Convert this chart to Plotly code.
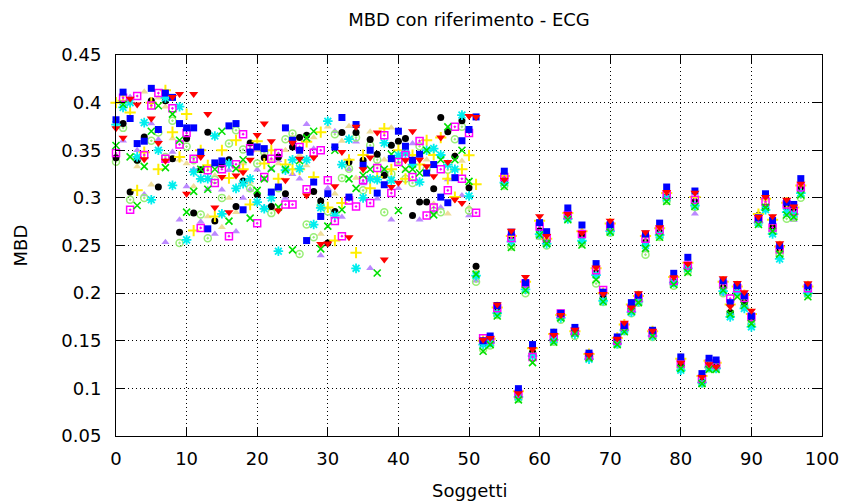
import plotly.graph_objects as go

subjects = list(range(99))

# ---- values per series: subjects 0..51 (scattered) + 52..98 (clustered) ----
red = [.373, .363, .404, .398, .3405, .3833, .3577, .339, .406, .409,
       .3044, .409, .343, .388, .29, .322, .285, .3236, .327, .340,
       .366, .378, .3595, .2868, .3184, .358, .341, .3026, .3423, .2517,
       .252, .3121, .3482, .2587, .3746, .330, .3423, .3686, .2352, .3114,
       .316, .3395, .370, .340, .3331, .3226, .3633, .3377, .2984, .2945,
       .386, .385] + \
      [.151, .153, .188, .319, .2655, .095, .217, .141, .2806, .260,
       .156, .177, .283, .1615, .263, .135, .227, .199, .276, .152,
       .169, .185, .200, .264, .1604, .2692, .3061, .2166, .127, .2306,
       .3054, .112, .1253, .1228, .2155, .186, .2106, .2008, .1815, .2798,
       .3008, .2808, .2524, .298, .291, .3149, .2103]

green = [.355, .398, .343, .292, .333, .370, .3967, .3317, .388, .3605,
         .285, .3068, .330, .309, .330, .370, .2756, .3307, .340, .2787,
         .3079, .320, .3307, .2903, .330, .2454, .339, .363, .370, .2464,
         .2703, .350, .2875, .320, .310, .3237, .330, .2211, .330, .3458,
         .2868, .330, .330, .3261, .350, .2822, .340, .3746, .340, .350,
         .3173, .220] + \
        [.139, .146, .176, .312, .248, .088, .203, .127, .261, .252,
         .1485, .174, .277, .158, .2505, .132, .214, .191, .264, .146,
         .1595, .181, .190, .247, .155, .2587, .2963, .209, .121, .2218,
         .291, .105, .120, .120, .203, .178, .1962, .187, .168, .272,
         .290, .265, .241, .282, .280, .303, .1962]

blue = [.382, .411, .3833, .357, .3595, .415, .3718, .410, .4055, .378,
        .3735, .3735, .348, .2675, .3367, .3388, .3756, .378, .2875, .348,
        .3535, .3517, .3061, .3114, .3735, .3605, .350, .2552, .3166, .2805,
        .3044, .3535, .3844, .3008, .377, .3342, .350, .305, .3138, .3412,
        .370, .3542, .3395, .3458, .3261, .335, .3008, .2949, .3212, .360,
        .3718, .385] + \
       [.150, .155, .187, .328, .264, .0997, .211, .146, .274, .2645,
        .159, .1788, .2894, .164, .2715, .137, .231, .201, .272, .154,
        .166, .190, .198, .262, .161, .2735, .3114, .2208, .133, .2376,
        .3072, .1155, .1316, .1298, .213, .190, .208, .197, .176, .279,
        .3043, .2762, .250, .2955, .2931, .3202, .208]

magenta = [.347, .405, .2875, .407, .345, .397, .410, .341, .394, .356,
           .368, .341, .2685, .329, .3156, .330, .2598, .3353, .3669, .352,
           .2734, .3219, .341, .347, .2931, .2931, .3535, .309, .3475, .350,
           .3184, .2756, .2598, .2973, .291, .3184, .2945, .3314, .3658, .305,
           .3377, .345, .3219, .3598, .2815, .290, .330, .3079, .3746, .320,
           .368, .2843] + \
          [.1525, .151, .184, .322, .258, .094, .210, .133, .270, .258,
           .154, .1785, .282, .160, .262, .134, .224, .2033, .270, .150,
           .165, .184, .195, .257, .158, .266, .303, .213, .126, .229,
           .298, .110, .126, .125, .209, .1944, .205, .195, .175, .278,
           .296, .269, .246, .293, .286, .311, .205]

cyan = [.377, .395, .400, .343, .379, .298, .350, .405, .3131, .3957,
        .2559, .3272, .320, .320, .365, .2833, .336, .310, .315, .320,
        .2956, .2886, .300, .244, .329, .340, .3307, .340, .272, .2896,
        .3805, .2815, .335, .3616, .226, .300, .320, .3191, .3577, .3184,
        .3447, .347, .335, .3166, .350, .3518, .345, .335, .330, .3869,
        .3019, .2183] + \
       [.146, .148, .179, .316, .254, .091, .204, .134, .262, .252,
        .151, .174, .278, .157, .255, .1307, .219, .192, .265, .147,
        .161, .180, .191, .250, .155, .261, .300, .211, .119, .226,
        .292, .106, .122, .121, .202, .1751, .201, .1839, .1646, .274,
        .2875, .2622, .2359, .285, .283, .305, .200]

yellow = [.400, .402, .3897, .3079, .348, .400, .330, .413, .369, .343,
          .388, .2657, .350, .3342, .2805, .350, .3208, .3605, .330, .293,
          .3595, .336, .350, .320, .335, .330, .330, .3588, .3219, .369,
          .290, .2552, .2945, .340, .2425, .345, .310, .3219, .3728, .330,
          .350, .320, .345, .335, .3605, .345, .3633, .320, .3008, .330,
          .3447, .3142] + \
         [.150, .152, .185, .323, .260, .097, .212, .142, .276, .257,
          .157, .177, .284, .160, .265, .136, .226, .200, .273, .153,
          .167, .188, .197, .260, .160, .268, .305, .217, .131, .232,
          .301, .113, .129, .127, .212, .188, .207, .198, .178, .283,
          .299, .277, .249, .295, .290, .313, .207]

black = [.342, .378, .3061, .3395, .364, .402, .3114, .402, .3412, .264,
         .3623, .284, .3296, .369, .2756, .3353, .340, .291, .3177, .3577,
         .3033, .342, .291, .343, .3044, .3535, .3633, .3658, .3068, .2966,
         .2527, .2857, .3686, .3377, .3686, .3395, .3612, .3458, .3237, .3553,
         .3595, .3623, .2815, .2956, .2956, .3096, .3844, .3693, .3437, .381,
         .3107, .2282] + \
        [.147, .149, .182, .318, .257, .093, .208, .138, .2655, .254,
         .153, .175, .281, .158, .260, .133, .221, .195, .268, .149,
         .162, .183, .194, .2534, .157, .264, .3026, .212, .124, .228,
         .296, .107, .124, .123, .206, .1797, .204, .1902, .174, .2815,
         .2903, .270, .247, .291, .287, .310, .2032]

lightgreen = [.338, .3735, .298, .340, .300, .360, .3686, .343, .381, .2527,
              .354, .3395, .2826, .2577, .319, .300, .357, .371, .3507, .310,
              .336, .348, .284, .310, .3616, .3676, .2411, .272, .2587, .292,
              .2857, .3669, .3208, .3307, .3633, .3079, .3553, .340, .285, .325,
              .340, .320, .3156, .3542, .330, .2861, .285, .3296, .3616, .3746,
              .2868, .212] + \
             [.141, .145, .177, .313, .249, .089, .200, .136, .260, .250,
              .149, .172, .2787, .155, .252, .133, .210, .1906, .2635, .146,
              .160, .179, .190, .2404, .154, .259, .297, .2078, .121, .223,
              .2903, .105, .121, .121, .200, .177, .199, .186, .167, .273,
              .289, .264, .240, .278, .2791, .3001, .198]

khaki = [.379, .408, .400, .333, .4114, .3138, .405, .3957, .3623, .340,
         .336, .312, .319, .2805, .3236, .2692, .300, .285, .336, .3166,
         .350, .345, .340, .336, .350, .364, .345, .334, .3633, .2622,
         .3746, .3044, .3598, .3753, .3208, .2991, .3693, .335, .340, .3735,
         .335, .3296, .340, .345, .340, .2938, .300, .2833, .345, .3388,
         .290, .2236] + \
        [.149, .150, .185, .321, .259, .096, .209, .140, .273, .255,
         .155, .176, .280, .156, .266, .134, .225, .198, .271, .151,
         .166, .186, .196, .259, .158, .265, .304, .215, .133, .230,
         .299, .111, .128, .126, .211, .187, .206, .196, .177, .284,
         .298, .2735, .2447, .294, .289, .3107, .206]

purple = [.375, .360, .406, .350, .3036, .378, .3612, .2534, .3482, .277,
          .312, .330, .275, .309, .2622, .3086, .329, .2647, .300, .3086,
          .3296, .290, .330, .3395, .300, .3247, .320, .3774, .3517, .2394,
          .310, .370, .2798, .330, .3588, .315, .226, .2991, .329, .277,
          .310, .340, .357, .277, .327, .285, .290, .3194, .330, .3026,
          .2815, .2131] + \
         [.145, .147, .180, .315, .253, .092, .205, .135, .258, .2535,
          .150, .173, .279, .1565, .256, .131, .218, .193, .266, .145,
          .163, .1785, .1895, .2447, .1529, .262, .299, .2106, .1226, .2253,
          .2833, .1042, .123, .122, .199, .182, .202, .192, .171, .2756,
          .293, .266, .243, .289, .2765, .308, .202]

x_ticks = [0, 10, 20, 30, 40, 50, 60, 70, 80, 90, 100]
y_ticks = [0.05, 0.1, 0.15, 0.2, 0.25, 0.3, 0.35, 0.4, 0.45]
y_tick_labels = ["0.05", "0.1", "0.15", "0.2", "0.25", "0.3", "0.35", "0.4", "0.45"]

series = [
    ("purple", purple, "#bb88ff", "triangle-up", 7, 0),
    ("khaki", khaki, "#eedd99", "triangle-up", 7, 0),
    ("lightgreen", lightgreen, "#99ee77", "circle-open-dot", 7, 1.5),
    ("black", black, "#000000", "circle", 7, 0),
    ("yellow", yellow, "#ffee00", "cross-thin-open", 8, 2),
    ("cyan", cyan, "#00eeee", "asterisk-open", 8, 1.8),
    ("magenta", magenta, "#ff00ff", "square-open-dot", 7, 1.5),
    ("green", green, "#00e000", "x-thin-open", 7, 1.6),
    ("blue", blue, "#0000ff", "square", 7, 0),
    ("red", red, "#ff0000", "triangle-down", 8, 0),
]

FS = 18

fig = go.Figure()
for name, vals, col, sym, size, lw in series:
    marker = dict(color=col, symbol=sym, size=size)
    if lw:
        marker["line"] = dict(color=col, width=lw)
    else:
        marker["line"] = dict(width=0)
    fig.add_trace(go.Scatter(x=subjects, y=vals, mode="markers", name=name,
                             marker=marker, showlegend=False, cliponaxis=False))

axis_common = dict(
    showline=True, linecolor="black", linewidth=1, mirror="ticks",
    ticks="inside", ticklen=9, tickcolor="black", tickwidth=1,
    showgrid=True, gridcolor="black", gridwidth=1, griddash="1px,3px",
    zeroline=False, tickfont=dict(family="DejaVu Sans", size=FS, color="black"),
)

fig.update_layout(
    width=851, height=502,
    margin=dict(l=116, r=22, t=55, b=66),
    paper_bgcolor="white", plot_bgcolor="white",
    font=dict(family="DejaVu Sans", size=FS, color="black"),
    title=dict(text="MBD con riferimento - ECG", x=0.5, xref="paper",
               y=1 - 20 / 502, yref="container", yanchor="middle",
               font=dict(family="DejaVu Sans", size=FS, color="black")),
    xaxis=dict(range=[0, 100], tickvals=x_ticks, ticklabelstandoff=6, **axis_common),
    yaxis=dict(range=[0.05, 0.45], tickvals=y_ticks, ticktext=y_tick_labels,
               ticklabelstandoff=10, **axis_common),
    annotations=[
        dict(text="Soggetti", x=0.5, y=0, xref="paper", yref="paper",
             yshift=-54, showarrow=False, yanchor="middle",
             font=dict(family="DejaVu Sans", size=FS, color="black")),
        dict(text="MBD", x=0, y=0.5, xref="paper", yref="paper",
             xshift=-96, showarrow=False, textangle=-90, xanchor="center",
             font=dict(family="DejaVu Sans", size=FS, color="black")),
    ],
)

fig.write_html("out.html")
